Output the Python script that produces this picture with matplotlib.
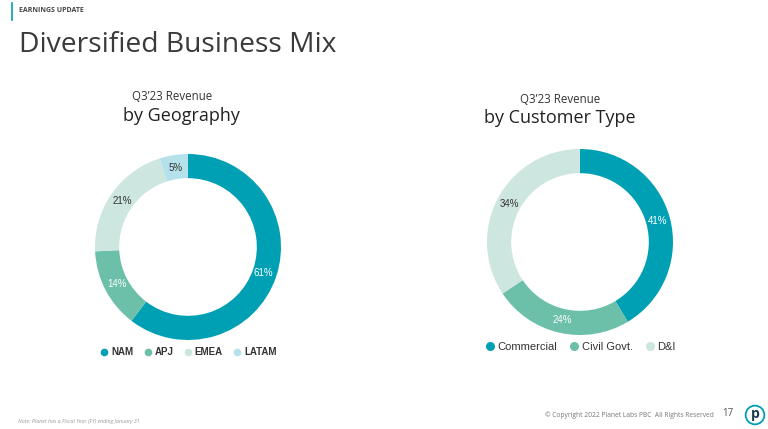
import matplotlib
matplotlib.use('Agg')
import matplotlib.pyplot as plt
from matplotlib.lines import Line2D
from matplotlib.patches import Circle

# 数据
geo_labels = ['NAM', 'APJ', 'EMEA', 'LATAM']
geo_values = [61, 14, 21, 5]
geo_colors = ['#00A0B4', '#6CBFA9', '#CDE6DF', '#B5E2EA']
geo_text_colors = ['white', 'white', '#333333', '#333333']

cust_labels = ['Commercial', 'Civil Govt.', 'D&I']
cust_values = [41, 24, 34]
cust_colors = ['#00A0B4', '#6CBFA9', '#CDE6DF']
cust_text_colors = ['white', 'white', '#333333']

W, H = 768, 429
fig = plt.figure(figsize=(W / 100, H / 100), dpi=100)
fig.patch.set_facecolor('white')

TITLE_FONT = ['Open Sans', 'DejaVu Sans']
BODY_FONT = ['Liberation Sans', 'DejaVu Sans']


def px(x, y):
    # 像素坐标 -> figure 坐标
    return x / W, 1 - y / H


def donut(cx, cy, r, values, colors, text_colors, labels, legend_y, leg_size, leg_weight, mk):
    ax = fig.add_axes([(cx - r) / W, (H - cy - r) / H, 2 * r / W, 2 * r / H])
    wedges, texts, autotexts = ax.pie(values, colors=colors, startangle=90, counterclock=False,
                                      radius=1, wedgeprops=dict(width=0.26, edgecolor='none'),
                                      autopct='%d', pctdistance=0.86)
    for t, v, c in zip(autotexts, values, text_colors):
        t.set_text('{}%'.format(v))
        t.set_color(c)
        t.set_fontsize(7)
        t.set_family(BODY_FONT)
    ax.set_xlim(-1, 1)
    ax.set_ylim(-1, 1)
    ax.set_aspect('equal')
    ax.axis('off')
    handles = [Line2D([], [], marker='o', linestyle='none', markersize=mk,
                      markerfacecolor=c, markeredgecolor=c) for c in colors]
    leg = fig.legend(handles, labels, loc='center', bbox_to_anchor=px(cx, legend_y), ncol=len(labels),
                     frameon=False, handletextpad=0.2, columnspacing=1.0, handlelength=1.0,
                     prop={'family': BODY_FONT, 'size': leg_size, 'weight': leg_weight})
    for t in leg.get_texts():
        t.set_color('#333333')
    return ax


donut(188, 247, 93, geo_values, geo_colors, geo_text_colors, geo_labels, 352, 7, 'bold', 4.5)
donut(580, 242, 93, cust_values, cust_colors, cust_text_colors, cust_labels, 347, 8, 'normal', 5.5)

# 标题
fig.add_artist(Line2D([12 / W, 12 / W], [1 - 3 / H, 1 - 20 / H], color='#00A0B4', lw=1.2))
fig.text(*px(19, 11), 'EARNINGS UPDATE', fontsize=5, fontweight='bold', color='#444444',
         va='center', ha='left', family=TITLE_FONT)
fig.text(*px(19, 45), 'Diversified Business Mix', fontsize=20.3, color='#3a3a3a',
         va='center', ha='left', family=TITLE_FONT)

fig.text(*px(172, 97), 'Q3\u201923 Revenue', fontsize=8.3, color='#333333', ha='center', va='center',
         family=TITLE_FONT)
fig.text(*px(181, 116), 'by Geography', fontsize=13, color='#222222', ha='center', va='center',
         family=TITLE_FONT)
fig.text(*px(560, 99), 'Q3\u201923 Revenue', fontsize=8.3, color='#333333', ha='center', va='center',
         family=TITLE_FONT)
fig.text(*px(560, 118), 'by Customer Type', fontsize=13, color='#222222', ha='center', va='center',
         family=TITLE_FONT)

# 页脚
fig.text(*px(18, 422), 'Note: Planet has a Fiscal Year (FY) ending January 31', fontsize=3.8,
         style='italic', color='#999999', ha='left', va='center', family=TITLE_FONT)
fig.text(*px(714, 415), '\u00a9 Copyright 2022 Planet Labs PBC  All Rights Reserved', fontsize=4.8,
         color='#777777', ha='right', va='center', family=TITLE_FONT)
fig.text(*px(728, 414), '17', fontsize=7, color='#555555', ha='center', va='center', family=TITLE_FONT)
logo_ax = fig.add_axes([(755 - 11) / W, (H - 415 - 11) / H, 22 / W, 22 / H])
logo_ax.set_xlim(-1, 1)
logo_ax.set_ylim(-1, 1)
logo_ax.set_aspect('equal')
logo_ax.axis('off')
logo_ax.add_patch(Circle((0, 0), 0.85, fill=False, edgecolor='#00A0B4', lw=1.3))
logo_ax.text(0, 0.05, 'p', fontsize=10, fontweight='bold', color='#1a3a4a', ha='center', va='center',
             family=TITLE_FONT)

fig.savefig('out.png', dpi=100, facecolor='white')
